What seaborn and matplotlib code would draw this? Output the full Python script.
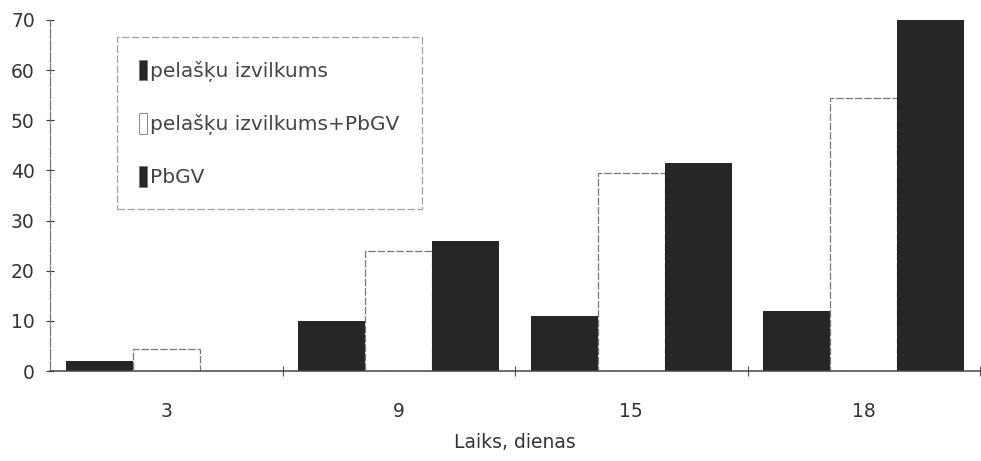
import matplotlib
matplotlib.use("Agg")
import matplotlib.pyplot as plt
import seaborn as sns
import pandas as pd

days = ["3", "9", "15", "18"]
series_names = ["pelašķu izvilkums", "pelašķu izvilkums+PbGV", "PbGV"]
extract = [2, 10, 11, 12]
extract_pbgv = [4.5, 24, 39.5, 54.5]
pbgv = [0, 26, 41.5, 70]
y_ticks = [0, 10, 20, 30, 40, 50, 60, 70]

df = pd.DataFrame({
    "day": days * 3,
    "series": [series_names[0]] * 4 + [series_names[1]] * 4 + [series_names[2]] * 4,
    "value": extract + extract_pbgv + pbgv,
})

sns.set_theme(style="white")
plt.rcParams["font.family"] = ["DejaVu Sans"]

fig = plt.figure(figsize=(9.81, 4.61), dpi=100)
ax = fig.add_axes([0.051, 0.195, 0.948, 0.762])

dark = "#262626"
palette = {series_names[0]: dark, series_names[1]: "white", series_names[2]: dark}
sns.barplot(data=df, x="day", y="value", hue="series", order=days,
            hue_order=series_names, palette=palette, width=0.865,
            saturation=1, ax=ax, legend=True, linewidth=0)

# thin grey outline on the open bars
for bar in ax.containers[1]:
    bar.set_edgecolor("#777777")
    bar.set_linewidth(0.9)
    bar.set_linestyle((0, (6, 1.5)))

ax.set_ylim(0, 70)
ax.set_xlim(-0.5, 3.5)
ax.set_yticks(y_ticks)
ax.set_xlabel("Laiks, dienas", fontsize=13.5, color="#333333", labelpad=9)
ax.set_ylabel("")

ax.tick_params(axis="y", labelsize=13.5, colors="#333333", direction="inout",
               length=6, width=0.8, left=True, pad=8)
ax.tick_params(axis="x", labelsize=13.5, colors="#333333", length=0, pad=22)
ax.set_xticks(range(len(days)), days)
ax.set_xticks([0.5, 1.5, 2.5, 3.5], minor=True)
ax.tick_params(axis="x", which="minor", direction="inout", length=7,
               width=0.8, bottom=True, color="#555555")

for side in ["top", "right"]:
    ax.spines[side].set_visible(False)
ax.spines["left"].set_color("#777777")
ax.spines["left"].set_linewidth(0.9)
ax.spines["left"].set_linestyle((0, (8, 1.5)))
ax.spines["bottom"].set_color("#444444")
ax.spines["bottom"].set_linewidth(1.1)

leg = ax.legend(loc="upper left", bbox_to_anchor=(0.072, 0.95),
                fontsize=14.5, frameon=True, fancybox=False,
                handlelength=0.4, handleheight=1.2, handletextpad=0.15,
                labelspacing=1.55, borderpad=1.1, borderaxespad=0)
leg.get_frame().set_edgecolor("#888888")
leg.get_frame().set_linestyle((0, (6, 2)))
leg.get_frame().set_linewidth(0.9)
for t in leg.get_texts():
    t.set_color("#444444")
for h in leg.legend_handles:
    h.set_linewidth(0.6)
    h.set_edgecolor("#777777")

fig.savefig("out.png", dpi=100, facecolor="white")
